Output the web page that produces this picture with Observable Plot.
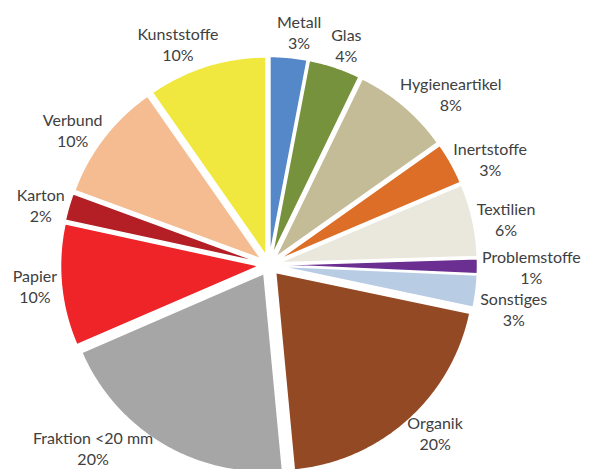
<!DOCTYPE html>
<html><head><meta charset="utf-8">
<script src="https://cdn.jsdelivr.net/npm/d3@7"></script>
<script src="https://cdn.jsdelivr.net/npm/@observablehq/plot@0.6"></script>
<style>body{margin:0;background:#fff;} svg{display:block;}</style>
</head><body><div id="chart"></div>
<script>
const categories = ["Metall","Glas","Hygieneartikel","Inertstoffe","Textilien","Problemstoffe","Sonstiges","Organik","Fraktion <20 mm","Papier","Karton","Verbund","Kunststoffe"];
const shares = [3.0, 4.2, 8.0, 3.4, 5.9, 1.2, 2.6, 20.2, 20.0, 9.9, 2.2, 9.7, 9.7];
const colors = ["#5588C8","#77923C","#C4BB97","#DD6E27","#EAE8DD","#6A2F91","#B8CCE4","#934A24","#A6A6A6","#EE2428","#B31F25","#F4BC90","#F0E83E"];

const W = 608, H = 469;
const PX = 198.5;          // pixels per unit radius
const CX = 268.5, CY = 264.5;
const EXPLODE = 10 / PX;
const FONT = "Lato";
const FS = 16;
const LH = 21;

const total = d3.sum(shares);
const pts = [];
const labels = [];
const ctx = document.createElement("canvas").getContext("2d");
ctx.font = `${FS}px ${FONT}`;
let cum = 0;
categories.forEach((name, i) => {
  const a0 = cum / total * 2 * Math.PI;
  cum += shares[i];
  const a1 = cum / total * 2 * Math.PI;
  const mid = (a0 + a1) / 2;
  const ox = EXPLODE * Math.sin(mid), oy = EXPLODE * Math.cos(mid);
  pts.push({name, x: ox, y: oy});
  const n = Math.max(2, Math.ceil((a1 - a0) / (Math.PI / 360)));
  for (let k = 0; k <= n; k++) {
    const a = a0 + (a1 - a0) * k / n;
    pts.push({name, x: ox + Math.sin(a), y: oy + Math.cos(a)});
  }
  // label placement (outside end)
  const pct = Math.round(shares[i] / total * 100) + "%";
  const w = Math.max(ctx.measureText(name).width, ctx.measureText(pct).width);
  const h = 2 * LH;
  const rp = 213;
  const place = (t) => {
    const s = Math.sin(t), c = Math.cos(t);
    const px = CX + rp * s + (w / 2) * Math.cbrt(s);
    const py = CY - rp * c - (h / 2) * c * c * c;
    return [px, py];
  };
  const fits = ([px, py]) => px - w / 2 >= 0 && px + w / 2 <= W && py - h / 2 >= 0 && py + h / 2 <= H;
  let best = place(mid);
  if (!fits(best)) {
    for (let s = 1; s < 120; s++) {
      const d = s * Math.PI / 360;
      const c1 = place(mid + d), c2 = place(mid - d);
      if (fits(c1)) { best = c1; break; }
      if (fits(c2)) { best = c2; break; }
    }
  }
  labels.push({name, pct, w, h, mid, px: best[0], py: best[1]});
});

// resolve vertical overlaps of neighbouring labels on the right side (push later ones down)
for (let i = 1; i < labels.length; i++) {
  const a = labels[i - 1], b = labels[i];
  if (b.mid > Math.PI || a.mid > Math.PI) continue;
  const overlapX = Math.abs(a.px - b.px) < (a.w + b.w) / 2;
  if (overlapX && b.py - a.py < a.h) b.py = a.py + a.h;
}
labels.forEach(l => { l.text = l.name + "\n" + l.pct; l.x = (l.px - CX) / PX; l.y = (CY - l.py) / PX; });

const chart = Plot.plot({
  width: W, height: H, margin: 0,
  style: {background: "white"},
  x: {domain: [-CX / PX, (W - CX) / PX], axis: null},
  y: {domain: [-(H - CY) / PX, CY / PX], axis: null},
  color: {domain: categories, range: colors},
  marks: [
    Plot.line(pts, {x: "x", y: "y", z: "name", fill: "name", stroke: "white", strokeWidth: 1.5, curve: "linear-closed"}),
    Plot.text(labels, {x: "x", y: "y", text: "text", fill: "#404040", fontSize: FS, fontFamily: FONT, lineHeight: LH / FS, textAnchor: "middle", lineAnchor: "middle"})
  ]
});
document.getElementById("chart").appendChild(chart);
</script>
</body></html>
